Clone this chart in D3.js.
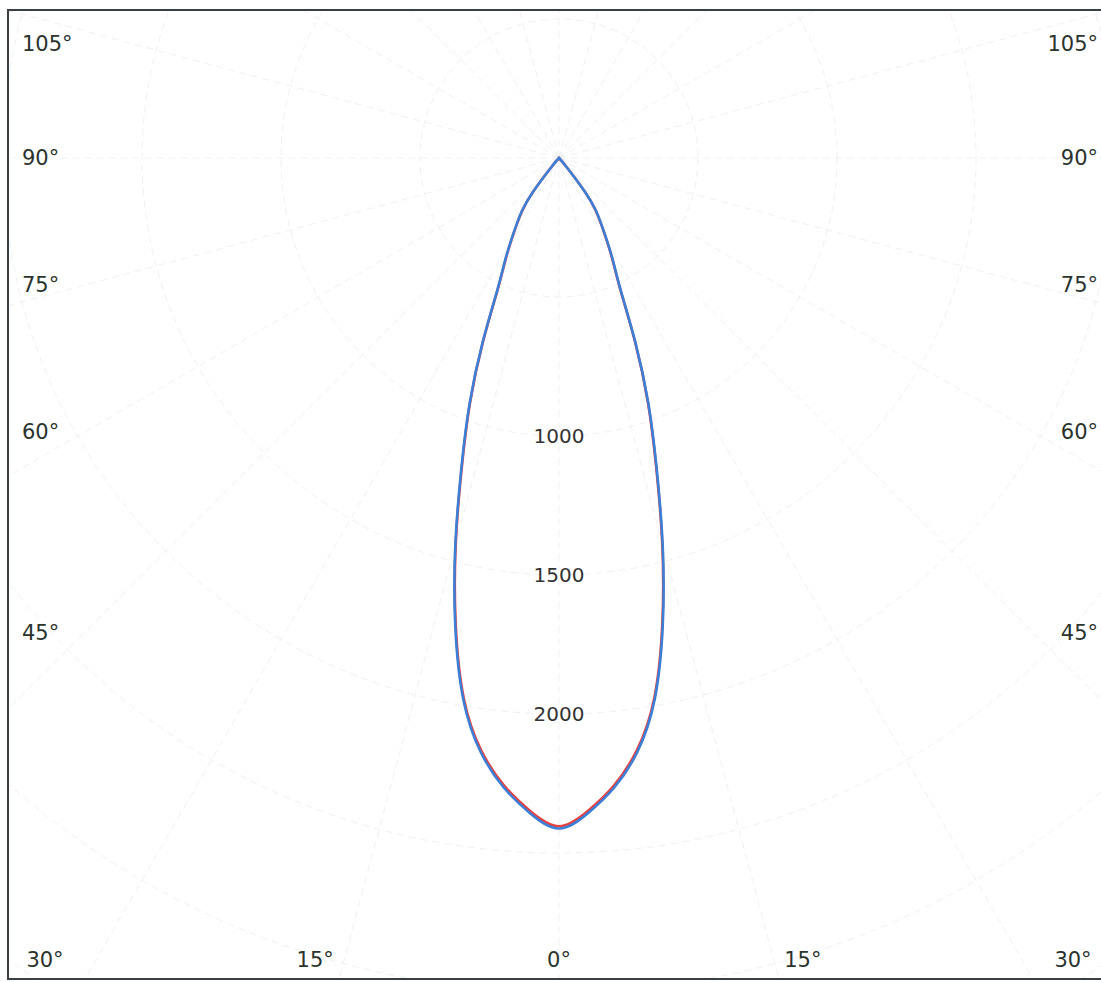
<!DOCTYPE html>
<html>
<head>
<meta charset="utf-8">
<script src="https://cdn.jsdelivr.net/npm/d3@7"></script>
<style>
  html, body { margin: 0; padding: 0; background: #fff; }
  svg { display: block; }
  text { font-family: "DejaVu Sans", Verdana, sans-serif; }
</style>
</head>
<body>
<svg id="chart" width="1101" height="982"></svg>
<script>
// ---- data ----
const gammaAngles = [0, 2.5, 5, 7.5, 10, 12.5, 15, 17.5, 20, 22.5, 25, 27.5, 30, 32.5, 35, 37.5, 40, 42.5];
const seriesC90 = [2412, 2360, 2274, 2156, 1980, 1724, 1441, 1167, 940, 718, 526, 425, 348, 285, 232, 155, 42, 0];   // blue
const seriesC0  = [2404, 2352, 2266, 2148, 1973, 1717, 1435, 1161, 935, 714, 522, 421, 345, 282, 229, 152, 40, 0];   // red
const ringValues = [500, 1000, 1500, 2000, 2500, 3000, 3500];
const ringLabels = [1000, 1500, 2000];
const radialAngles = d3.range(0, 360, 15);
const angleTicks = [0, 15, 30, 45, 60, 75, 90, 105];

// ---- layout ----
const W = 1101, H = 982;
const cx = 559, cy = 158;
const sideDist = 475, bottomDist = 910;
const r = d3.scaleLinear().domain([0, 1000]).range([0, 278]);

const svg = d3.select("#chart");
svg.append("clipPath").attr("id", "frameClip")
  .append("rect").attr("x", 8).attr("y", 10).attr("width", W).attr("height", 969);

const grid = svg.append("g").attr("clip-path", "url(#frameClip)")
  .append("g").attr("transform", `translate(${cx},${cy})`);
const g = svg.append("g").attr("transform", `translate(${cx},${cy})`);

// grid circles
grid.selectAll("circle.ring").data(ringValues).join("circle")
  .attr("class", "ring")
  .attr("r", d => r(d))
  .attr("fill", "none")
  .attr("stroke", "#eff1f1")
  .attr("stroke-width", 1)
  .attr("stroke-dasharray", "7,5");

// radial lines
const rMax = r(4000);
grid.selectAll("line.spoke").data(radialAngles).join("line")
  .attr("class", "spoke")
  .attr("x1", 0).attr("y1", 0)
  .attr("x2", d => rMax * Math.sin(d * Math.PI / 180))
  .attr("y2", d => rMax * Math.cos(d * Math.PI / 180))
  .attr("stroke", "#eff1f1")
  .attr("stroke-width", 1)
  .attr("stroke-dasharray", "7,5");

// ring labels
g.selectAll("text.ringlab").data(ringLabels).join("text")
  .attr("class", "ringlab")
  .attr("x", 0)
  .attr("y", d => r(d))
  .attr("text-anchor", "middle")
  .attr("dominant-baseline", "central")
  .attr("font-size", 20)
  .attr("fill", "#333")
  .text(d => d);

// curves
function fullSeries(vals) {
  const pts = [];
  for (let i = gammaAngles.length - 1; i >= 1; i--) pts.push({ a: -gammaAngles[i], v: vals[i] });
  for (let i = 0; i < gammaAngles.length; i++) pts.push({ a: gammaAngles[i], v: vals[i] });
  return pts;
}
const line = d3.lineRadial()
  .angle(d => Math.PI - d.a * Math.PI / 180)
  .radius(d => r(d.v))
  .curve(d3.curveNatural);

g.append("path").datum(fullSeries(seriesC0))
  .attr("d", line).attr("fill", "none")
  .attr("stroke", "#e8403f").attr("stroke-width", 2.6)
  .attr("stroke-linejoin", "round").attr("stroke-linecap", "round");
g.append("path").datum(fullSeries(seriesC90))
  .attr("d", line).attr("fill", "none")
  .attr("stroke", "#3c7fd6").attr("stroke-width", 2.6)
  .attr("stroke-linejoin", "round").attr("stroke-linecap", "round");

// angle labels
const labels = [];
angleTicks.forEach(t => {
  const rad = t * Math.PI / 180;
  const ySide = t === 0 ? Infinity : cy + sideDist / Math.tan(rad);
  if (ySide > 960) {
    const dx = bottomDist * Math.tan(rad);
    labels.push({ t, x: Math.max(45, cx - dx), y: 960, anchor: "middle" });
    if (t !== 0) labels.push({ t, x: Math.min(1073, cx + dx), y: 960, anchor: "middle" });
  } else {
    const y = Math.max(44, ySide);
    labels.push({ t, x: 22, y, anchor: "start" });
    labels.push({ t, x: 1098, y, anchor: "end" });
  }
});
svg.selectAll("text.anglab").data(labels).join("text")
  .attr("class", "anglab")
  .attr("x", d => d.x).attr("y", d => d.y)
  .attr("text-anchor", d => d.anchor)
  .attr("dominant-baseline", "central")
  .attr("font-size", 21)
  .attr("fill", "#2a332c")
  .text(d => d.t + "°");

// frame
svg.append("path")
  .attr("d", `M${W + 5},10 H8 V979 H${W + 5}`)
  .attr("fill", "none")
  .attr("stroke", "#3a3f44")
  .attr("stroke-width", 2);
</script>
</body>
</html>
